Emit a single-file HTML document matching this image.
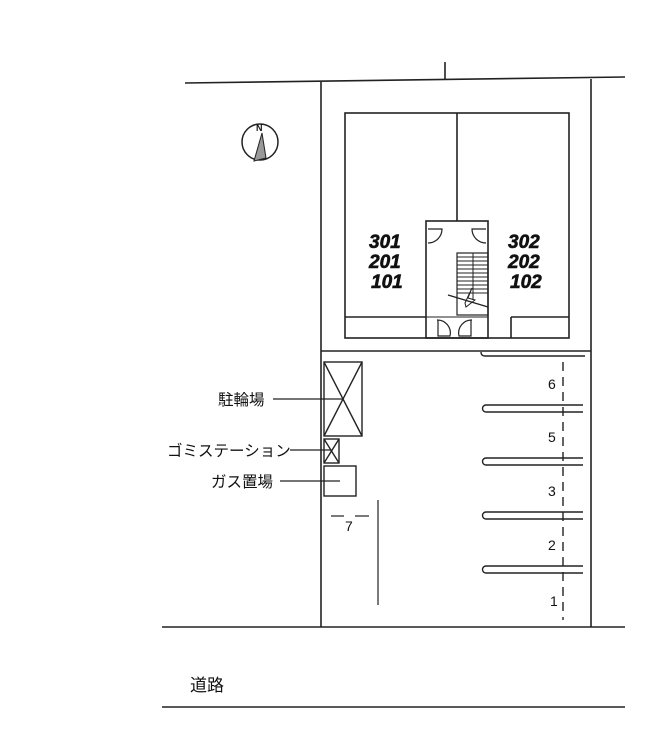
<!DOCTYPE html>
<html><head><meta charset="utf-8"><style>
html,body{margin:0;padding:0;background:#fff;}
svg{display:block;}
text{font-family:"Liberation Sans","Noto Sans CJK JP",sans-serif;fill:#111;}
</style></head><body>
<svg width="652" height="754" viewBox="0 0 652 754" xmlns="http://www.w3.org/2000/svg">
<g stroke="#222" stroke-width="1.6" fill="none">
<line x1="185" y1="83" x2="625" y2="77"/>
<line x1="445" y1="62" x2="445" y2="80"/>
<line x1="321" y1="82" x2="321" y2="627"/>
<line x1="591" y1="79" x2="591" y2="627"/>
<line x1="321" y1="351" x2="591" y2="351"/>
<line x1="162" y1="627" x2="625" y2="627"/>
<line x1="162" y1="707" x2="625" y2="707"/>
<rect x="345" y="113" width="224" height="225"/>
<line x1="457" y1="113" x2="457" y2="221"/>
<rect x="426" y="221" width="62" height="117"/>
<line x1="345" y1="317" x2="426" y2="317"/>
<line x1="426" y1="317" x2="488" y2="317" stroke-width="1"/>
<line x1="511" y1="317" x2="569" y2="317"/>
<line x1="511" y1="317" x2="511" y2="338"/>
<path d="M428 229 H442 A14 14 0 0 1 428 243" stroke-width="1.2"/>
<path d="M486 229 H472 A14 14 0 0 0 486 243" stroke-width="1.2"/>
<path d="M438 320 V336 H450 A13 13 0 0 0 437 320" stroke-width="1.2"/>
<path d="M471 320 V336 H459 A13 13 0 0 1 472 320" stroke-width="1.2"/>
<rect x="457" y="253" width="31" height="62" stroke-width="1.2"/>
<line x1="473" y1="253" x2="473" y2="300" stroke-width="1"/>
</g>
<g stroke="#222" stroke-width="1">
<line x1="457" y1="257" x2="488" y2="257"/><line x1="457" y1="261" x2="488" y2="261"/>
<line x1="457" y1="265" x2="488" y2="265"/><line x1="457" y1="269" x2="488" y2="269"/>
<line x1="457" y1="273" x2="488" y2="273"/><line x1="457" y1="277" x2="488" y2="277"/>
<line x1="457" y1="281" x2="488" y2="281"/><line x1="457" y1="285" x2="488" y2="285"/>
<line x1="457" y1="289" x2="488" y2="289"/><line x1="457" y1="293" x2="488" y2="293"/>
<line x1="448" y1="295" x2="488" y2="307" stroke-width="1.4"/>
<path d="M465 303 L472 288 L468 298 L475 300 L466 307 Z" fill="none"/>
</g>
<g font-weight="bold" font-style="italic" font-size="19" stroke="#111" stroke-width="0.6">
<text x="369" y="248">301</text><text x="369" y="268">201</text><text x="371" y="288">101</text>
<text x="508" y="248">302</text><text x="508" y="268">202</text><text x="510" y="288">102</text>
</g>
<circle cx="260" cy="142" r="18" stroke="#222" stroke-width="1.5" fill="none"/>
<polygon points="262,133 254,161 266,158" fill="#999" stroke="#222" stroke-width="1"/>
<text x="256" y="131" font-size="9" font-weight="bold">N</text>
<g stroke="#222" stroke-width="1.4" fill="none">
<rect x="324" y="362" width="38" height="74"/>
<line x1="324" y1="362" x2="362" y2="436"/><line x1="362" y1="362" x2="324" y2="436"/>
<rect x="324" y="439" width="15" height="24"/>
<line x1="324" y1="439" x2="339" y2="463"/><line x1="339" y1="439" x2="324" y2="463"/>
<rect x="324" y="466" width="32" height="30"/>
<line x1="378" y1="500" x2="378" y2="605" stroke-width="1.2"/>
<line x1="331" y1="516" x2="344" y2="516" stroke-width="1.2"/>
<line x1="355" y1="516" x2="369" y2="516" stroke-width="1.2"/>
<line x1="273" y1="399" x2="343" y2="399" stroke-width="1.2"/>
<line x1="290" y1="450" x2="331" y2="450" stroke-width="1.2"/>
<line x1="280" y1="481" x2="340" y2="481" stroke-width="1.2"/>
</g>
<g font-size="15.5">
<text x="218" y="405">駐輪場</text>
<text x="167" y="456">ゴミステーション</text>
<text x="211" y="487">ガス置場</text>
</g>
<text x="345" y="531" font-size="14">7</text>
<g stroke="#222" stroke-width="1.4" fill="none">
<path d="M481 352 Q481 356 485 356 H585"/>
<path d="M583 405 H486 A3.5 3.5 0 0 0 486 412 H583"/>
<path d="M583 458 H486 A3.5 3.5 0 0 0 486 465 H583"/>
<path d="M583 512 H486 A3.5 3.5 0 0 0 486 519 H583"/>
<path d="M583 566 H486 A3.5 3.5 0 0 0 486 573 H583"/>
<line x1="563" y1="362" x2="563" y2="620" stroke-dasharray="9,6"/>
</g>
<g font-size="14">
<text x="548" y="389">6</text><text x="548" y="442">5</text>
<text x="548" y="496">3</text><text x="548" y="550">2</text>
<text x="550" y="606">1</text>
</g>
<text x="190" y="691" font-size="17">道路</text>
</svg>
</body></html>
